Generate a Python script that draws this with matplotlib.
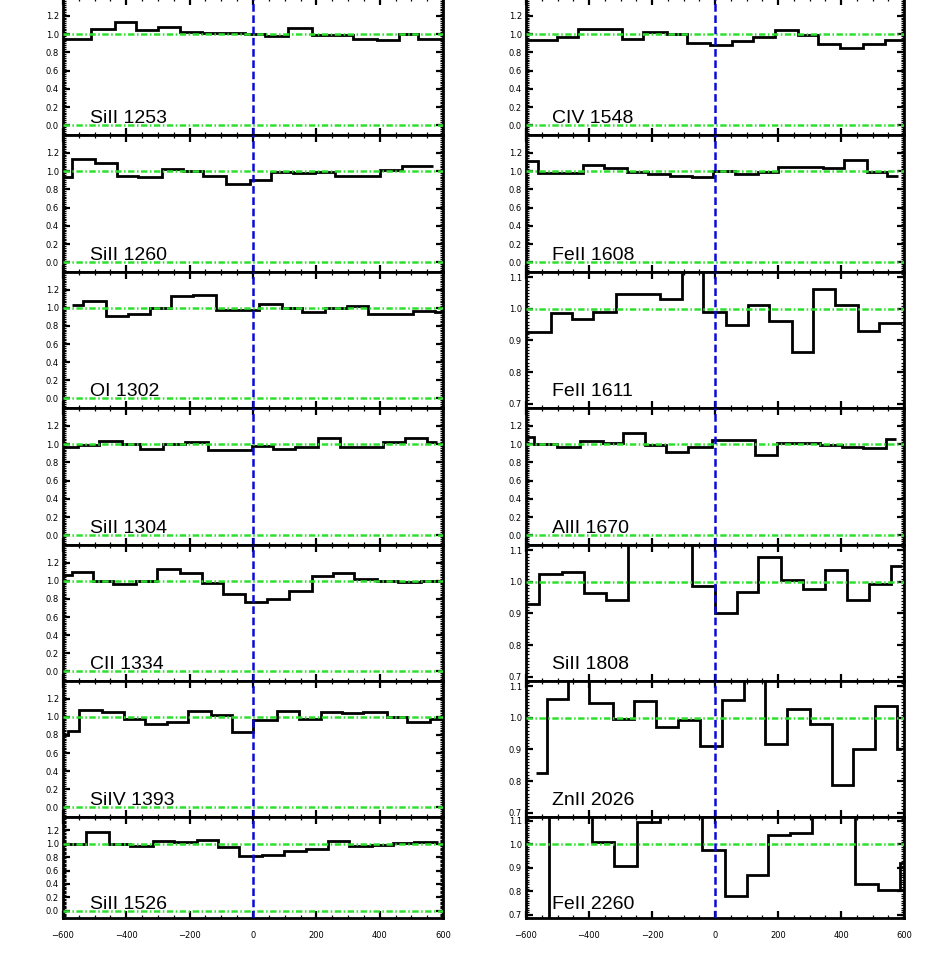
import matplotlib.pyplot as plt
from matplotlib.ticker import MultipleLocator, AutoMinorLocator, FormatStrFormatter

# velocity bin edges (km/s) and normalised flux
sii_1253_v = [-620, -510, -436, -370, -299, -230, -162, -94, -25, 38, 112, 185, 254, 317, 391, 462, 522, 620]
sii_1253_f = [0.95, 1.055, 1.13, 1.045, 1.08, 1.02, 1.01, 1.01, 1.0, 0.98, 1.065, 0.985, 0.99, 0.95, 0.93, 1.0, 0.945]

sii_1260_v = [-620, -573, -499, -430, -362, -288, -220, -157, -85, -10, 57, 127, 196, 259, 333, 401, 470, 569]
sii_1260_f = [0.94, 1.135, 1.09, 0.95, 0.935, 1.02, 1.0, 0.95, 0.857, 0.9, 0.99, 0.98, 0.99, 0.945, 0.945, 1.01, 1.06]

oi_1302_v = [-573, -538, -464, -394, -325, -260, -189, -117, -51, 20, 91, 154, 227, 296, 364, 433, 506, 575, 620]
oi_1302_f = [1.03, 1.073, 0.91, 0.927, 1.0, 1.128, 1.143, 0.978, 0.978, 1.04, 1.0, 0.952, 1.0, 1.015, 0.934, 0.934, 0.97, 0.95]

sii_1304_v = [-620, -552, -485, -415, -357, -283, -215, -141, -73, -4, 62, 133, 206, 275, 343, 412, 480, 549, 580]
sii_1304_f = [0.97, 0.99, 1.033, 1.0, 0.95, 1.0, 1.02, 0.93, 0.93, 0.98, 0.95, 0.967, 1.07, 0.97, 0.965, 1.025, 1.065, 1.02]

cii_1334_v = [-620, -573, -506, -441, -370, -304, -231, -162, -96, -25, 43, 115, 185, 254, 320, 391, 459, 530, 620]
cii_1334_f = [1.06, 1.095, 1.0, 0.963, 1.0, 1.125, 1.088, 0.978, 0.86, 0.768, 0.8, 0.89, 1.055, 1.088, 1.015, 1.0, 0.99, 0.995]

siiv_1393_v = [-620, -583, -548, -478, -407, -341, -273, -204, -134, -67, 1, 75, 146, 214, 280, 348, 422, 487, 559, 620]
siiv_1393_f = [0.8, 0.84, 1.07, 1.048, 0.978, 0.923, 0.94, 1.06, 1.015, 0.835, 0.97, 1.06, 0.98, 1.048, 1.04, 1.048, 1.0, 0.945, 0.98]

sii_1526_v = [-620, -527, -454, -388, -317, -250, -178, -110, -43, 28, 98, 167, 238, 304, 375, 443, 507, 585]
sii_1526_f = [1.0, 1.166, 1.0, 0.96, 1.044, 1.03, 1.06, 0.946, 0.81, 0.834, 0.883, 0.917, 1.04, 0.96, 0.98, 1.015, 1.03]

civ_1548_v = [-620, -503, -434, -365, -296, -228, -153, -90, -16, 53, 122, 191, 265, 328, 397, 471, 540, 620]
civ_1548_f = [0.935, 0.97, 1.055, 1.055, 0.95, 1.02, 1.0, 0.905, 0.88, 0.924, 0.97, 1.044, 0.99, 0.887, 0.844, 0.894, 0.94]

feii_1608_v = [-620, -561, -492, -420, -352, -280, -212, -143, -74, -5, 64, 138, 201, 275, 344, 408, 482, 545, 582]
feii_1608_f = [1.106, 0.978, 0.978, 1.062, 1.037, 0.985, 0.963, 0.949, 0.934, 1.0, 0.97, 0.993, 1.044, 1.044, 1.037, 1.12, 0.993, 0.949]

feii_1611_v = [-620, -521, -455, -386, -314, -245, -175, -106, -37, 35, 106, 173, 244, 312, 381, 453, 522, 593]
feii_1611_f = [0.928, 0.986, 0.967, 0.991, 1.046, 1.046, 1.032, 1.15, 0.991, 0.95, 1.012, 0.962, 0.865, 1.064, 1.012, 0.93, 0.955]

alii_1670_v = [-620, -575, -503, -429, -357, -293, -222, -156, -85, -10, 58, 127, 196, 265, 334, 402, 471, 543, 575]
alii_1670_f = [1.08, 1.0, 0.97, 1.033, 1.015, 1.124, 0.985, 0.916, 0.964, 1.044, 1.044, 0.88, 1.015, 1.015, 0.99, 0.97, 0.96, 1.055]

sii_1808_v = [-620, -558, -487, -416, -346, -275, -206, -137, -74, 0, 69, 138, 210, 278, 349, 418, 490, 559, 593]
sii_1808_f = [0.931, 1.025, 1.033, 0.966, 0.942, 1.14, 1.16, 1.13, 0.988, 0.9, 0.969, 1.078, 1.005, 0.978, 1.037, 0.944, 0.993, 1.052]

znii_2026_v = [-568, -534, -466, -399, -323, -256, -187, -116, -48, 21, 92, 159, 228, 302, 371, 439, 508, 577, 593]
znii_2026_f = [0.824, 1.06, 1.13, 1.048, 0.997, 1.053, 0.97, 0.992, 0.911, 1.058, 1.15, 0.916, 1.028, 0.98, 0.787, 0.901, 1.038, 0.9]

feii_2260_v = [-620, -526, -459, -391, -321, -249, -175, -108, -42, 32, 101, 169, 238, 307, 376, 445, 519, 588, 598]
feii_2260_f = [0.55, 1.15, 1.15, 1.012, 0.907, 1.095, 1.14, 1.13, 0.978, 0.782, 0.868, 1.042, 1.048, 1.16, 1.15, 0.83, 0.804, 0.92]

left_panels = [
    ('SiII 1253', sii_1253_v, sii_1253_f),
    ('SiII 1260', sii_1260_v, sii_1260_f),
    ('OI 1302', oi_1302_v, oi_1302_f),
    ('SiII 1304', sii_1304_v, sii_1304_f),
    ('CII 1334', cii_1334_v, cii_1334_f),
    ('SiIV 1393', siiv_1393_v, siiv_1393_f),
    ('SiII 1526', sii_1526_v, sii_1526_f),
]
right_panels = [
    ('CIV 1548', civ_1548_v, civ_1548_f),
    ('FeII 1608', feii_1608_v, feii_1608_f),
    ('FeII 1611', feii_1611_v, feii_1611_f),
    ('AlII 1670', alii_1670_v, alii_1670_f),
    ('SiII 1808', sii_1808_v, sii_1808_f),
    ('ZnII 2026', znii_2026_v, znii_2026_f),
    ('FeII 2260', feii_2260_v, feii_2260_f),
]
narrow = {'FeII 1611', 'SiII 1808', 'ZnII 2026', 'FeII 2260'}

plt.rcParams['lines.scale_dashes'] = False

W, H = 927, 955
fig = plt.figure(figsize=(W / 100, H / 100), dpi=100)

# panel boundaries in pixels
rows = [-2, 135, 272, 408, 545, 681, 817, 918]
cols = [(63, 380), (526, 378)]

green = '#2ee02e'
blue = '#0a0ad8'
dashdot = (4.6, 1.8, 1.1, 1.8)


def draw_panel(ax, label, v, f, bottom):
    ax.stairs(f, v, baseline=None, color='black', lw=2.0, zorder=2)
    ax.axhline(1.0, color=green, lw=1.8, dashes=dashdot, zorder=3)
    if label not in narrow:
        ax.axhline(0.0, color=green, lw=1.8, dashes=dashdot, zorder=3)
    ax.axvline(0, color=blue, lw=1.8, dashes=(5.5, 2.6), zorder=4)

    ax.set_xlim(-600, 600)
    ax.xaxis.set_major_locator(MultipleLocator(200))
    ax.xaxis.set_minor_locator(MultipleLocator(50))
    if label in narrow:
        ax.set_ylim(0.686, 1.117)
        ax.yaxis.set_major_locator(MultipleLocator(0.1))
    else:
        ax.set_ylim(-0.105, 1.395)
        ax.yaxis.set_major_locator(MultipleLocator(0.2))
    ax.yaxis.set_minor_locator(AutoMinorLocator(10))
    ax.yaxis.set_major_formatter(FormatStrFormatter('%.1f'))

    for s in ax.spines.values():
        s.set_linewidth(2.0)
    ax.tick_params(which='both', direction='in', top=True, right=True,
                   labelsize=6)
    ax.tick_params(which='major', length=5, width=1.6)
    ax.tick_params(which='minor', length=2.5, width=0.9)
    ax.tick_params(axis='y', pad=3)
    ax.tick_params(axis='x', pad=9, labelbottom=bottom)

    ax.text(0.07, 0.09, label, transform=ax.transAxes, fontsize=14,
            family='Liberation Sans', va='baseline', ha='left', zorder=5)


for (x0, w), panels in zip(cols, [left_panels, right_panels]):
    for i, (label, v, f) in enumerate(panels):
        top, bot = rows[i], rows[i + 1]
        ax = fig.add_axes([x0 / W, 1 - bot / H, w / W, (bot - top) / H])
        draw_panel(ax, label, v, f, i == len(panels) - 1)

fig.savefig('out.png', dpi=100)
